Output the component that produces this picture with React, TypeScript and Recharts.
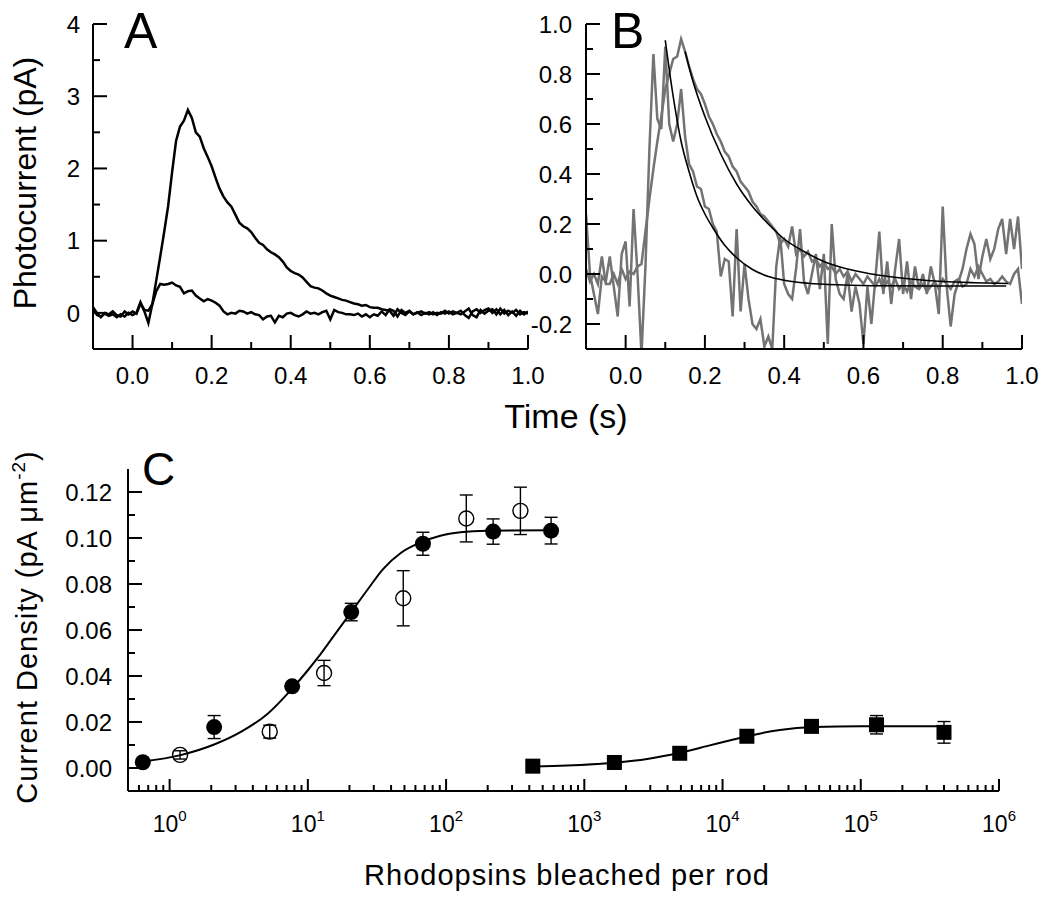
import React from "react";
import { ComposedChart, Line, Scatter, ErrorBar, XAxis, YAxis } from "recharts";

const FONT = "'Liberation Sans', Arial, Helvetica, sans-serif";
const GRAY = "#737373";

// ---- panels A and B: shared time grid (s) ----
const time = [
  -0.1, -0.09, -0.08, -0.07, -0.06, -0.05, -0.04, -0.03, -0.02, -0.01,
  0.0, 0.01, 0.02, 0.03, 0.04, 0.05, 0.06, 0.07, 0.08, 0.09,
  0.1, 0.11, 0.12, 0.13, 0.14, 0.15, 0.16, 0.17, 0.18, 0.19,
  0.2, 0.21, 0.22, 0.23, 0.24, 0.25, 0.26, 0.27, 0.28, 0.29,
  0.3, 0.31, 0.32, 0.33, 0.34, 0.35, 0.36, 0.37, 0.38, 0.39,
  0.4, 0.41, 0.42, 0.43, 0.44, 0.45, 0.46, 0.47, 0.48, 0.49,
  0.5, 0.51, 0.52, 0.53, 0.54, 0.55, 0.56, 0.57, 0.58, 0.59,
  0.6, 0.61, 0.62, 0.63, 0.64, 0.65, 0.66, 0.67, 0.68, 0.69,
  0.7, 0.71, 0.72, 0.73, 0.74, 0.75, 0.76, 0.77, 0.78, 0.79,
  0.8, 0.81, 0.82, 0.83, 0.84, 0.85, 0.86, 0.87, 0.88, 0.89,
  0.9, 0.91, 0.92, 0.93, 0.94, 0.95, 0.96, 0.97, 0.98, 0.99,
  1.0,
];

// A: photocurrent (pA), large and small response
const ampBig = [
  0.06, -0.03, -0.05, -0.01, -0.04, -0.02, -0.06, -0.02, -0.05, 0.0,
  -0.03, 0.0, 0.15, 0.02, -0.14, 0.12, 0.45, 0.78, 1.12, 1.48,
  1.95, 2.38, 2.58, 2.66, 2.81, 2.7, 2.5, 2.44, 2.28, 2.16,
  2.03, 1.87, 1.72, 1.61, 1.53, 1.47, 1.36, 1.25, 1.2, 1.17,
  1.12, 1.04, 0.97, 0.94, 0.88, 0.84, 0.81, 0.77, 0.71, 0.63,
  0.58, 0.55, 0.53, 0.49, 0.43, 0.37, 0.35, 0.34, 0.31, 0.27,
  0.24, 0.22, 0.2, 0.18, 0.17, 0.15, 0.13, 0.12, 0.1, 0.11,
  0.08, 0.07, 0.07, 0.05, 0.04, 0.03, -0.04, 0.05, 0.0, -0.03,
  0.02, -0.02, 0.01, -0.03, 0.0, -0.02, 0.01, -0.03, 0.01, -0.01,
  0.02, -0.02, 0.0, 0.03, -0.03, -0.07, 0.02, 0.05, 0.0, 0.04,
  0.06, 0.0, 0.05, -0.02, 0.04, -0.03, 0.02, -0.04, 0.03, -0.02,
  0.02,
];
const ampSmall = [
  0.08, 0.0, -0.06, 0.0, -0.02, 0.02, -0.03, -0.05, 0.02, -0.02,
  0.02, -0.01, 0.13, 0.04, 0.03, 0.12, 0.3, 0.4, 0.39, 0.4,
  0.42, 0.38, 0.36, 0.27, 0.3, 0.31, 0.24, 0.2, 0.16, 0.19,
  0.17, 0.14, 0.1, 0.02, -0.02, 0.0, -0.01, 0.03, 0.02, -0.01,
  0.01, -0.02, -0.03, -0.09, -0.05, -0.04, -0.13, -0.04, -0.06, -0.01,
  0.0, -0.03, -0.05, -0.02, 0.02, -0.01, 0.0, -0.02, 0.01, 0.03,
  -0.09, 0.04, 0.01, 0.0, -0.02, -0.02, -0.03, -0.01, -0.05, -0.02,
  -0.06, -0.02, -0.04, 0.02, -0.03, 0.05, 0.03, -0.05, 0.04, 0.0,
  0.03, -0.02, 0.0, 0.02, -0.01, 0.01, -0.02, 0.0, -0.01, 0.03,
  -0.01, 0.02, 0.0, -0.02, 0.02, 0.06, -0.03, -0.06, 0.04, -0.01,
  0.03, 0.05, -0.02, 0.06, -0.01, 0.03, 0.0, 0.04, -0.02, 0.01,
  -0.01,
];

// B: normalised responses
const normSlow = [
  0.02, -0.03, 0.0, -0.04, 0.07, -0.04, -0.04, 0.0, -0.04, 0.02,
  -0.02, 0.01, 0.0, 0.03, 0.04, 0.17, 0.3, 0.42, 0.53, 0.63,
  0.74, 0.8, 0.86, 0.87, 0.94, 0.89, 0.83, 0.78, 0.74, 0.72,
  0.68, 0.63, 0.6, 0.56, 0.53, 0.49, 0.47, 0.43, 0.41, 0.37,
  0.35, 0.33, 0.29, 0.27, 0.24, 0.23, 0.21, 0.19, 0.17, 0.12,
  0.14, 0.11, 0.19, 0.08, 0.1, 0.07, 0.09, 0.05, 0.06, 0.03,
  0.05, 0.02, 0.03, 0.0, 0.02, -0.01, 0.01, -0.03, 0.0, -0.02,
  -0.04, -0.01, -0.03, -0.05, -0.02, -0.06, -0.03, -0.05, -0.02, -0.06,
  -0.04, -0.07, -0.03, -0.05, -0.06, -0.04, -0.07, -0.05, -0.03, -0.06,
  -0.02, -0.04, -0.06, -0.03, -0.02, -0.05, -0.04, 0.02, -0.01, 0.03,
  0.0, -0.03, -0.02, -0.04, -0.03, -0.01, -0.03, -0.04, 0.0, 0.02,
  -0.12,
];
const normFast = [
  0.24, 0.0, -0.08, -0.16, -0.01, -0.03, 0.07, -0.05, -0.17, 0.08,
  0.13, -0.13, 0.26, 0.0, -0.32, 0.03, 0.5, 0.88, 0.62, 0.58,
  0.91, 0.6, 0.53, 0.6, 0.74, 0.55, 0.44, 0.41, 0.35, 0.34,
  0.27, 0.26, 0.2, 0.17, -0.01, 0.06, 0.05, -0.17, 0.18, -0.15,
  0.04, -0.1, -0.2, -0.22, -0.18, -0.29, -0.25, -0.3, 0.03, 0.15,
  -0.04, -0.08, -0.1, 0.02, 0.18, -0.03, -0.08, 0.0, 0.08, -0.06,
  0.08, -0.28, 0.2, -0.02, -0.08, -0.1, 0.0, -0.15, -0.05, -0.12,
  -0.28, -0.05, -0.2, -0.02, 0.17, -0.08, 0.05, -0.12, 0.02, 0.14,
  -0.08, 0.05, -0.1, 0.03, -0.06, 0.0, -0.08, 0.03, -0.04, -0.16,
  0.27, -0.05, -0.21, -0.08, -0.03, 0.02, 0.1, 0.16, 0.12, -0.02,
  0.07, 0.14, 0.06, 0.1, 0.18, 0.22, 0.08, 0.22, 0.1, 0.23,
  0.02,
];
const fastFitT = [0.1, 0.12, 0.14, 0.16, 0.18, 0.2, 0.22, 0.25, 0.28, 0.32, 0.36, 0.4, 0.46, 0.55, 0.65, 0.8, 0.96];
const fastFitV = [0.935, 0.71, 0.53, 0.41, 0.31, 0.24, 0.185, 0.115, 0.065, 0.018, -0.01, -0.025, -0.037, -0.044, -0.047, -0.048, -0.048];
const slowFitT = [0.15, 0.17, 0.2, 0.24, 0.28, 0.32, 0.36, 0.4, 0.45, 0.5, 0.56, 0.64, 0.72, 0.8, 0.88, 0.965];
const slowFitV = [0.89, 0.77, 0.63, 0.48, 0.36, 0.27, 0.2, 0.14, 0.09, 0.05, 0.02, -0.005, -0.02, -0.03, -0.035, -0.038];

// ---- panel C: current density vs rhodopsins bleached ----
const filledX = [0.64, 2.1, 7.7, 20.6, 68, 219, 575];
const filledY = [0.0025, 0.0178, 0.0355, 0.0678, 0.0975, 0.1028, 0.1032];
const filledErr = [0.001, 0.005, 0.001, 0.0038, 0.005, 0.0055, 0.0058];
const openX = [1.19, 5.3, 13.1, 49, 140, 345];
const openY = [0.0057, 0.0158, 0.0413, 0.0738, 0.1085, 0.1118];
const openErr = [0.0018, 0.0028, 0.0055, 0.012, 0.0102, 0.0103];
const squareX = [424, 1650, 4900, 15000, 44000, 130000, 400000];
const squareY = [0.0008, 0.0024, 0.0064, 0.0138, 0.0181, 0.0188, 0.0155];
const squareErr = [0.0005, 0.0008, 0.001, 0.0015, 0.0015, 0.004, 0.0047];
const circleFitX = [0.64, 1.2, 2.1, 3.3, 5.1, 7.7, 10, 12, 15, 20.6, 27, 35, 47, 65, 91, 127, 200, 575];
const circleFitY = [0.0028, 0.0056, 0.0102, 0.0158, 0.0235, 0.0345, 0.0425, 0.0485, 0.0565, 0.0678, 0.0775, 0.0865, 0.0935, 0.098, 0.101, 0.1025, 0.1032, 0.1034];
const squareFitX = [424, 750, 1650, 2850, 4900, 7700, 12000, 15000, 26000, 46000, 100000, 400000];
const squareFitY = [0.0007, 0.0011, 0.0023, 0.0039, 0.0066, 0.0095, 0.0124, 0.0138, 0.0165, 0.0178, 0.0182, 0.0182];

// ticks
const ticksAX = [0, 0.1, 0.2, 0.3, 0.4, 0.5, 0.6, 0.7, 0.8, 0.9, 1.0];
const ticksAY = [0, 0.5, 1, 1.5, 2, 2.5, 3, 3.5, 4];
const ticksBY = [-0.2, -0.1, 0, 0.1, 0.2, 0.3, 0.4, 0.5, 0.6, 0.7, 0.8, 0.9, 1.0];
const ticksCY = [0, 0.01, 0.02, 0.03, 0.04, 0.05, 0.06, 0.07, 0.08, 0.09, 0.1, 0.11, 0.12];
const decadesC = [0.1, 1, 10, 100, 1000, 10000, 100000];
const ticksCX = decadesC
  .flatMap((d) => [1, 2, 3, 4, 5, 6, 7, 8, 9].map((m) => +(m * d).toPrecision(3)))
  .filter((v) => v >= 0.6)
  .concat([1000000]);

const pts = (xs: number[], ys: number[]) => xs.map((x, i) => ({ x, y: ys[i] }));
const ptsErr = (xs: number[], ys: number[], es: number[]) =>
  xs.map((x, i) => ({ x, y: ys[i], err: es[i] }));

const xTick =
  (axisY: number, isMajor: (v: number) => boolean, label: (v: number) => React.ReactNode,
   gap: number, fontSize: number, longLen: number, shortLen: number) =>
  (props: any) => {
    const { x, payload } = props;
    const v = payload.value;
    const major = isMajor(v);
    return (
      <g>
        <line x1={x} x2={x} y1={axisY} y2={axisY - (major ? longLen : shortLen)} stroke="#000" strokeWidth={2} />
        {major && (
          <text x={x} y={axisY + gap} textAnchor="middle" fontSize={fontSize} fontFamily={FONT} fill="#000">
            {label(v)}
          </text>
        )}
      </g>
    );
  };

const yTick =
  (axisX: number, isMajor: (v: number) => boolean, label: (v: number) => string,
   gap: number, fontSize: number, longLen: number, shortLen: number) =>
  (props: any) => {
    const { y, payload } = props;
    const v = payload.value;
    const major = isMajor(v);
    return (
      <g>
        <line x1={axisX} x2={axisX + (major ? longLen : shortLen)} y1={y} y2={y} stroke="#000" strokeWidth={2} />
        {major && (
          <text x={axisX - gap} y={y} dy="0.36em" textAnchor="end" fontSize={fontSize} fontFamily={FONT} fill="#000">
            {label(v)}
          </text>
        )}
      </g>
    );
  };

const evenTenth = (v: number) => Math.round(v * 10) % 2 === 0;
const isInt = (v: number) => Math.abs(v - Math.round(v)) < 1e-9;
const evenHundredth = (v: number) => Math.round(v * 100) % 2 === 0;
const isDecade = (v: number) => Math.abs(Math.log10(v) - Math.round(Math.log10(v))) < 1e-6;
const powerLabel = (v: number) => (
  <>
    10
    <tspan dy={-11} fontSize={15}>{Math.round(Math.log10(v))}</tspan>
  </>
);

const axisStyle = { stroke: "#000", strokeWidth: 2 };

const FilledCircle = (p: any) => <circle cx={p.cx} cy={p.cy} r={8} fill="#000" />;
const OpenCircle = (p: any) => <circle cx={p.cx} cy={p.cy} r={7.5} fill="none" stroke="#000" strokeWidth={1.4} />;
const FilledSquare = (p: any) => <rect x={p.cx - 7.5} y={p.cy - 7.5} width={15} height={15} fill="#000" />;

export default function App() {
  const dataBig = pts(time, ampBig);
  const dataSmall = pts(time, ampSmall);
  const dataSlow = pts(time, normSlow);
  const dataFast = pts(time, normFast);

  return (
    <div style={{ position: "absolute", left: 0, top: 0, width: 1050, height: 907, background: "#fff" }}>
      {/* Panel A */}
      <div style={{ position: "absolute", left: 0, top: 0 }}>
        <ComposedChart width={1050} height={440} margin={{ top: 24, right: 522, bottom: 51, left: 33 }}>
          <XAxis dataKey="x" type="number" domain={[-0.1, 1.0]} allowDataOverflow ticks={ticksAX} interval={0}
            axisLine={axisStyle} tickLine={false} height={40}
            tick={xTick(349, evenTenth, (v) => v.toFixed(1), 35, 24, 14, 7)} />
          <YAxis dataKey="y" type="number" domain={[-0.5, 4]} allowDataOverflow ticks={ticksAY} interval={0}
            axisLine={axisStyle} tickLine={false} width={60}
            tick={yTick(93, isInt, (v) => String(v), 13, 24, 14, 7)} />
          <Line data={dataSmall} dataKey="y" type="linear" stroke="#000" strokeWidth={2.5} dot={false} isAnimationActive={false} />
          <Line data={dataBig} dataKey="y" type="linear" stroke="#000" strokeWidth={2.5} dot={false} isAnimationActive={false} />
        </ComposedChart>
      </div>

      {/* Panel B */}
      <div style={{ position: "absolute", left: 0, top: 0 }}>
        <ComposedChart width={1050} height={440} margin={{ top: 24, right: 28, bottom: 51, left: 526 }}>
          <XAxis dataKey="x" type="number" domain={[-0.1, 1.0]} allowDataOverflow ticks={ticksAX} interval={0}
            axisLine={axisStyle} tickLine={false} height={40}
            tick={xTick(349, evenTenth, (v) => v.toFixed(1), 35, 24, 14, 7)} />
          <YAxis dataKey="y" type="number" domain={[-0.3, 1.0]} allowDataOverflow ticks={ticksBY} interval={0}
            axisLine={axisStyle} tickLine={false} width={60}
            tick={yTick(586, evenTenth, (v) => v.toFixed(1), 14, 24, 14, 7)} />
          <Line data={dataFast} dataKey="y" type="linear" stroke={GRAY} strokeWidth={2.5} dot={false} isAnimationActive={false} />
          <Line data={dataSlow} dataKey="y" type="linear" stroke={GRAY} strokeWidth={2.5} dot={false} isAnimationActive={false} />
          <Line data={pts(fastFitT, fastFitV)} dataKey="y" type="monotone" stroke="#000" strokeWidth={1.6} dot={false} isAnimationActive={false} />
          <Line data={pts(slowFitT, slowFitV)} dataKey="y" type="monotone" stroke="#000" strokeWidth={1.6} dot={false} isAnimationActive={false} />
        </ComposedChart>
      </div>

      {/* Panel C */}
      <div style={{ position: "absolute", left: 0, top: 440 }}>
        <ComposedChart width={1050} height={467} margin={{ top: 29, right: 51, bottom: 76, left: 68 }}>
          <XAxis dataKey="x" type="number" scale="log" domain={[0.5, 1000000]} allowDataOverflow ticks={ticksCX} interval={0}
            axisLine={axisStyle} tickLine={false} height={40}
            tick={xTick(351, isDecade, powerLabel, 41, 23, 12, 6)} />
          <YAxis dataKey="y" type="number" domain={[-0.01, 0.13]} allowDataOverflow ticks={ticksCY} interval={0}
            axisLine={axisStyle} tickLine={false} width={60}
            tick={yTick(128, evenHundredth, (v) => v.toFixed(2), 16, 24, 14, 7)} />
          <Line data={pts(circleFitX, circleFitY)} dataKey="y" type="monotone" stroke="#000" strokeWidth={2} dot={false} isAnimationActive={false} />
          <Line data={pts(squareFitX, squareFitY)} dataKey="y" type="monotone" stroke="#000" strokeWidth={2} dot={false} isAnimationActive={false} />
          <Scatter data={ptsErr(openX, openY, openErr)} dataKey="y" shape={OpenCircle} isAnimationActive={false}>
            <ErrorBar dataKey="err" direction="y" width={6.5} stroke="#000" strokeWidth={1.4} />
          </Scatter>
          <Scatter data={ptsErr(filledX, filledY, filledErr)} dataKey="y" shape={FilledCircle} isAnimationActive={false}>
            <ErrorBar dataKey="err" direction="y" width={6.5} stroke="#000" strokeWidth={1.4} />
          </Scatter>
          <Scatter data={ptsErr(squareX, squareY, squareErr)} dataKey="y" shape={FilledSquare} isAnimationActive={false}>
            <ErrorBar dataKey="err" direction="y" width={6.5} stroke="#000" strokeWidth={1.4} />
          </Scatter>
        </ComposedChart>
      </div>

      {/* panel letters and axis titles */}
      <svg width={1050} height={907} style={{ position: "absolute", left: 0, top: 0, pointerEvents: "none" }}
        fontFamily={FONT} fill="#000">
        <text x={124} y={48} fontSize={50}>A</text>
        <text x={611} y={48} fontSize={50}>B</text>
        <text x={142} y={485} fontSize={46}>C</text>
        <text x={566} y={428} fontSize={34} textAnchor="middle">Time (s)</text>
        <text transform="translate(36,183) rotate(-90)" fontSize={32} textAnchor="middle">Photocurrent (pA)</text>
        <text transform="translate(37,627) rotate(-90)" fontSize={29} textAnchor="middle" letterSpacing={1}>
          Current Density (pA μm<tspan dy={-12} fontSize={19}>-2</tspan><tspan dy={12}>)</tspan>
        </text>
        <text x={567} y={885} fontSize={29} textAnchor="middle" letterSpacing={1}>Rhodopsins bleached per rod</text>
      </svg>
    </div>
  );
}
